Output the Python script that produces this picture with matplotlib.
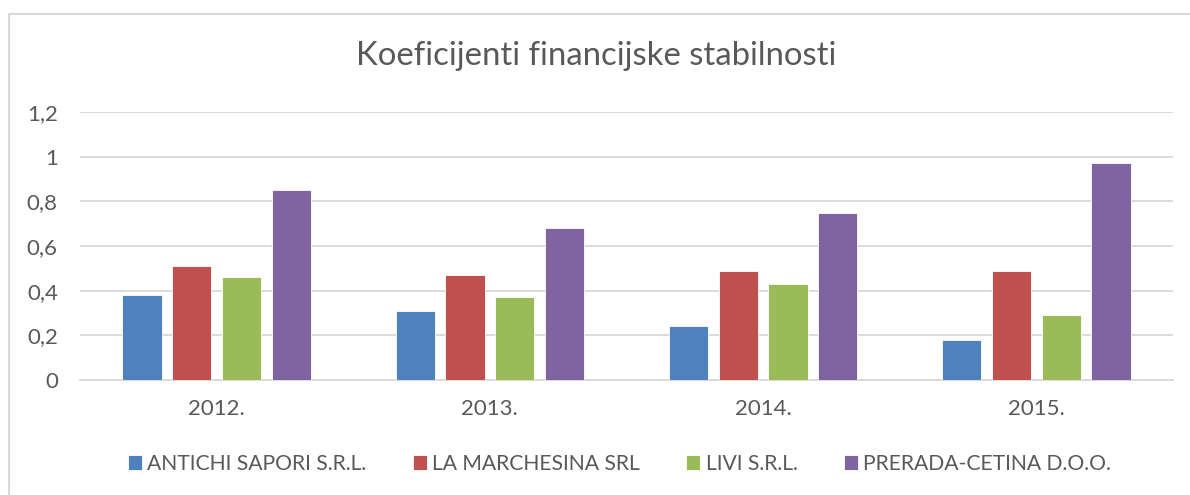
import numpy as np
import matplotlib.pyplot as plt
from matplotlib.patches import Rectangle

# data
years = ['2012.', '2013.', '2014.', '2015.']
companies = ['ANTICHI SAPORI S.R.L.', 'LA MARCHESINA SRL', 'LIVI S.R.L.', 'PRERADA-CETINA D.O.O.']
antichi = [0.38, 0.31, 0.24, 0.18]
marchesina = [0.51, 0.47, 0.49, 0.49]
livi = [0.46, 0.37, 0.43, 0.29]
prerada = [0.85, 0.68, 0.75, 0.97]
yticks = [0, 0.2, 0.4, 0.6, 0.8, 1.0, 1.2]
ytick_labels = ['0', '0,2', '0,4', '0,6', '0,8', '1', '1,2']

colors = ['#4F81BD', '#C0504D', '#9BBB59', '#8064A2']
text_col = '#595959'
grid_col = '#D9D9D9'

plt.rcParams['font.family'] = ['Lato', 'DejaVu Sans']

fig = plt.figure(figsize=(11.9, 4.95), dpi=100)
ax = fig.add_axes([80 / 1190, 1 - 380 / 495, (1173 - 80) / 1190, (380 - 112) / 495])

# chart border (top and left visible in the reference)
fig.patches.append(Rectangle((9 / 1190, -0.1), 1.2, (495 - 14) / 495 + 0.1,
                             transform=fig.transFigure, fill=False,
                             edgecolor=grid_col, linewidth=1.5))

x = np.arange(len(years))
step = 0.182
width = 0.143
series = [antichi, marchesina, livi, prerada]
for i, (vals, name, col) in enumerate(zip(series, companies, colors)):
    ax.bar(x + (i - 1.5) * step, vals, width, color=col, label=name,
           edgecolor='white', linewidth=0.6, zorder=3)

ax.set_xlim(-0.5, len(years) - 0.5)
ax.set_ylim(0, 1.2)
ax.set_yticks(yticks)
ax.set_yticklabels(ytick_labels)
ax.set_xticks(x)
ax.set_xticklabels(years)
ax.tick_params(axis='both', length=0, colors=text_col, labelsize=16)
ax.tick_params(axis='y', pad=16)
ax.tick_params(axis='x', pad=14)
ax.grid(axis='y', color=grid_col, linewidth=1.3, zorder=0)
for s in ['top', 'right', 'left']:
    ax.spines[s].set_visible(False)
ax.spines['bottom'].set_color(grid_col)
ax.spines['bottom'].set_linewidth(1.3)

fig.text(0.5 * (355 + 837) / 1190, 1 - 65 / 495, 'Koeficijenti financijske stabilnosti',
         ha='center', va='baseline', fontsize=23.7, color=text_col)

leg = fig.legend(loc='center', bbox_to_anchor=(619.5 / 1190, 1 - 464 / 495), ncol=4,
                 frameon=False, fontsize=15.2, handlelength=0.66, handleheight=0.66,
                 handletextpad=0.25, columnspacing=2.2)
for t in leg.get_texts():
    t.set_color(text_col)

fig.savefig('out.png', dpi=100, facecolor='white')
